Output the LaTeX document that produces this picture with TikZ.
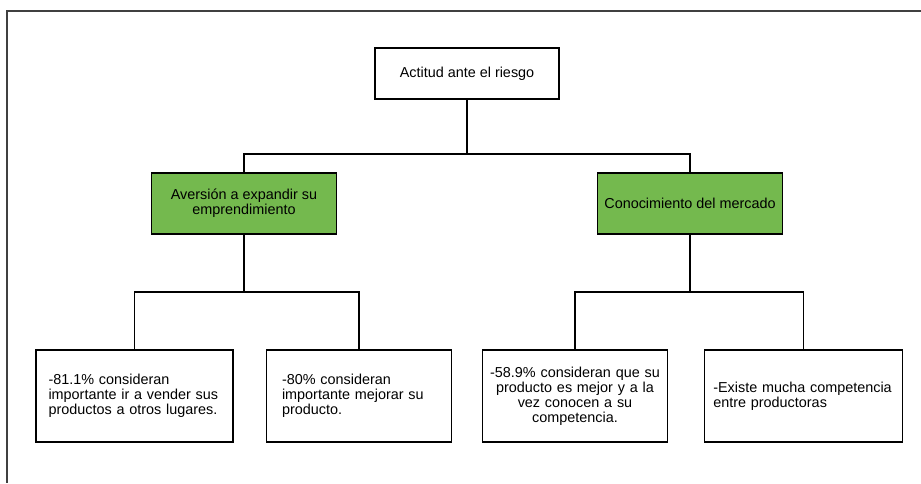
\documentclass[tikz,border=0pt]{standalone}
\usepackage{fontspec}
\setmainfont{Liberation Sans}
\definecolor{leafgreen}{RGB}{116,185,78}
\definecolor{framegray}{RGB}{64,64,64}
\begin{document}
\begin{tikzpicture}[x=1pt,y=-1pt,
  font=\fontsize{14.4}{15}\selectfont,
  box/.style={draw=black,line width=1.3pt,fill=white,inner sep=0pt,
    minimum width=#1},
  topic/.style={box=185,fill=leafgreen,minimum height=61,align=center},
  leaf/.style={box=#1,minimum height=92},
  link/.style={line width=1.2pt,black}]
\useasboundingbox (0,0) rectangle (921,483);
% outer frame (top and left edges)
\draw[framegray,line width=1.4pt] (921,11) -- (7,11) -- (7,483);

% root
\node[box=184,minimum height=51] (root) at (467,73.5) {Actitud ante el riesgo};

% second level
\node[topic] (g1) at (244,203.5) {Aversión a expandir su\\emprendimiento};
\node[topic] (g2) at (690,203.5) {Conocimiento del mercado};

% leaves
\node[leaf=197,text width=172,align=left] (b1) at (134.5,396)
  {-81.1\% consideran\\importante ir a vender sus\\productos a otros lugares.};
\node[leaf=185,text width=154,align=left] (b2) at (359,396)
  {-80\% consideran\\importante mejorar su\\producto.};
\node[leaf=185,text width=175,align=center] (b3) at (575,396)
  {-58.9\% consideran que su\\producto es mejor y a la\\vez conocen a su\\competencia.};
\node[leaf=198,text width=181,align=left] (b4) at (803.8,396)
  {-Existe mucha competencia\\entre productoras};

% connector junctions
\coordinate (j0) at (467,154);
\coordinate (j1) at (244,292);
\coordinate (j2) at (690,292);

\draw[link] (root.south) -- (j0);
\draw[link] (g1.north) |- (j0) -| (g2.north);
\draw[link] (g1.south) -- (j1);
\draw[link] (b1.north) |- (j1) -| (b2.north);
\draw[link] (g2.south) -- (j2);
\draw[link] (b3.north) |- (j2) -| (b4.north);
\end{tikzpicture}
\end{document}
